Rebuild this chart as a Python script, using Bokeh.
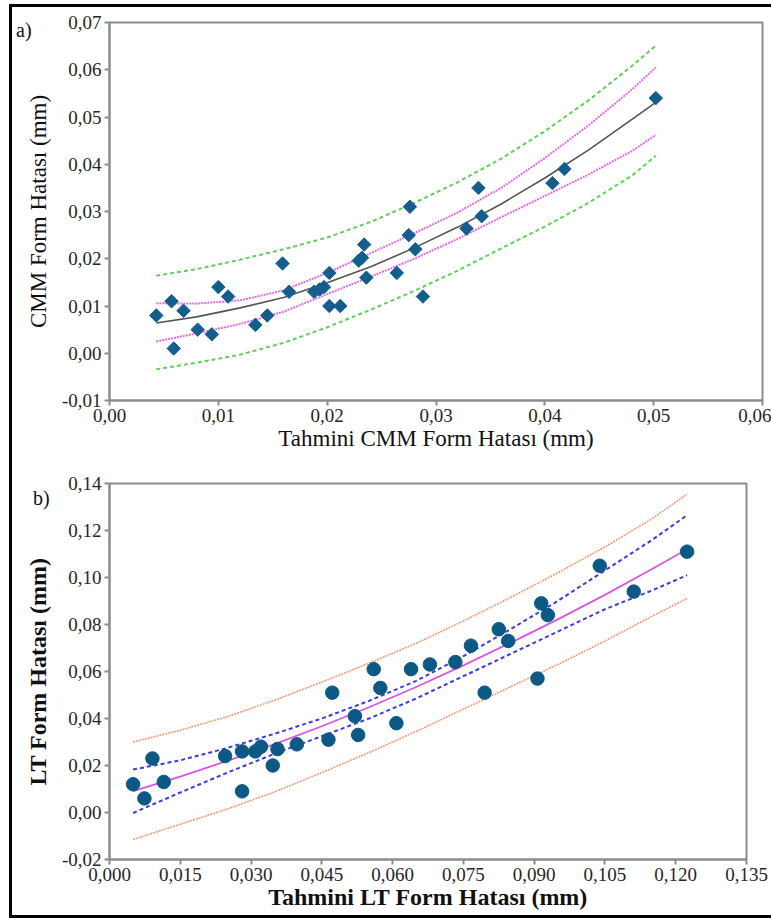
from bokeh.plotting import figure
from bokeh.layouts import column, row
from bokeh.models import Range1d, FixedTicker, CustomJSTickFormatter, Div
from bokeh.embed import file_html
from bokeh.resources import INLINE
import numpy as np

SERIF = "Liberation Serif"

# ---------------- Panel a) data ----------------
cmm_pred = [0.0043, 0.0057, 0.0059, 0.0068, 0.0081, 0.0094, 0.0100, 0.0109, 0.0134, 0.0145,
            0.0159, 0.0165, 0.0188, 0.0193, 0.0197, 0.0202, 0.0202, 0.0212, 0.0229, 0.0232,
            0.0234, 0.0236, 0.0264, 0.0275, 0.0276, 0.0281, 0.0288, 0.0328, 0.0339, 0.0342,
            0.0407, 0.0418, 0.0502]
cmm_meas = [0.008, 0.011, 0.001, 0.009, 0.005, 0.004, 0.014, 0.012, 0.006, 0.008,
            0.019, 0.013, 0.013, 0.0135, 0.014, 0.017, 0.010, 0.010, 0.0196, 0.0202,
            0.023, 0.016, 0.017, 0.025, 0.031, 0.022, 0.012, 0.0264, 0.035, 0.029,
            0.036, 0.039, 0.054]

cmm_curve_x = [0.0043, 0.008, 0.012, 0.016, 0.020, 0.024, 0.028, 0.032, 0.036, 0.040, 0.044, 0.048, 0.0502]
cmm_fit     = [0.0064, 0.0077, 0.0096, 0.0118, 0.0149, 0.0183, 0.0223, 0.0267, 0.0316, 0.0371, 0.0430, 0.0495, 0.0531]
cmm_ci_up   = [0.0106, 0.0105, 0.0112, 0.0133, 0.0170, 0.0212, 0.0254, 0.0298, 0.0350, 0.0413, 0.0482, 0.0558, 0.0605]
cmm_ci_lo   = [0.0025, 0.0042, 0.0062, 0.0088, 0.0125, 0.0162, 0.0200, 0.0242, 0.0288, 0.0333, 0.0378, 0.0428, 0.0462]
cmm_pi_up   = [0.0164, 0.0178, 0.0198, 0.0220, 0.0245, 0.0278, 0.0318, 0.0362, 0.0412, 0.0470, 0.0535, 0.0608, 0.0651]
cmm_pi_lo   = [-0.0034, -0.0020, -0.0003, 0.0022, 0.0055, 0.0092, 0.0132, 0.0175, 0.0222, 0.0268, 0.0318, 0.0376, 0.0418]

cmm_xticks = [0.00, 0.01, 0.02, 0.03, 0.04, 0.05, 0.06]
cmm_yticks = [-0.01, 0.00, 0.01, 0.02, 0.03, 0.04, 0.05, 0.06, 0.07]

# ---------------- Panel b) data ----------------
lt_pred = [0.0050, 0.0074, 0.0091, 0.0115, 0.0245, 0.0281, 0.0281, 0.0309, 0.0321, 0.0346,
           0.0356, 0.0397, 0.0464, 0.0472, 0.0520, 0.0527, 0.0560, 0.0574, 0.0608, 0.0639,
           0.0679, 0.0733, 0.0766, 0.0795, 0.0825, 0.0845, 0.0907, 0.0915, 0.0929, 0.1039,
           0.1111, 0.1224]
lt_meas = [0.012, 0.006, 0.023, 0.013, 0.024, 0.026, 0.009, 0.026, 0.028, 0.020,
           0.027, 0.029, 0.031, 0.051, 0.041, 0.033, 0.061, 0.053, 0.038, 0.061,
           0.063, 0.064, 0.071, 0.051, 0.078, 0.073, 0.057, 0.089, 0.084, 0.105,
           0.094, 0.111]

lt_curve_x = [0.005, 0.015, 0.025, 0.035, 0.045, 0.055, 0.065, 0.075, 0.085, 0.095, 0.105, 0.115, 0.1224]
lt_fit     = [0.0091, 0.0153, 0.0220, 0.0291, 0.0367, 0.0448, 0.0534, 0.0626, 0.0722, 0.0822, 0.0926, 0.1036, 0.1120]
lt_ci_up   = [0.0183, 0.0222, 0.0275, 0.0335, 0.0400, 0.0475, 0.0560, 0.0665, 0.0780, 0.0900, 0.1030, 0.1160, 0.1265]
lt_ci_lo   = [-0.0002, 0.0085, 0.0170, 0.0250, 0.0325, 0.0400, 0.0485, 0.0580, 0.0675, 0.0770, 0.0865, 0.0945, 0.1010]
lt_pi_up   = [0.0300, 0.0350, 0.0408, 0.0478, 0.0555, 0.0635, 0.0720, 0.0815, 0.0915, 0.1020, 0.1130, 0.1250, 0.1355]
lt_pi_lo   = [-0.0115, -0.0050, 0.0015, 0.0088, 0.0170, 0.0255, 0.0345, 0.0440, 0.0535, 0.0630, 0.0730, 0.0835, 0.0911]

lt_xticks = [0.000, 0.015, 0.030, 0.045, 0.060, 0.075, 0.090, 0.105, 0.120, 0.135]
lt_yticks = [-0.02, 0.00, 0.02, 0.04, 0.06, 0.08, 0.10, 0.12, 0.14]

panel_labels = ["a)", "b)"]

AXIS_COL = "#8c8c8c"


def style(p, xticks, yticks, xdec, ydec, xlabel, ylabel, bold):
    p.xaxis.ticker = FixedTicker(ticks=xticks)
    p.yaxis.ticker = FixedTicker(ticks=yticks)
    p.xaxis.formatter = CustomJSTickFormatter(code="return tick.toFixed(%d).replace('.', ',');" % xdec)
    p.yaxis.formatter = CustomJSTickFormatter(code="return tick.toFixed(%d).replace('.', ',');" % ydec)
    p.xaxis.axis_label = xlabel
    p.yaxis.axis_label = ylabel
    for ax in (p.xaxis[0], p.yaxis[0]):
        ax.axis_line_color = AXIS_COL
        ax.axis_line_width = 2
        ax.major_tick_line_color = AXIS_COL
        ax.major_tick_line_width = 2
        ax.major_tick_out = 5
        ax.major_tick_in = 0
        ax.minor_tick_line_color = None
        ax.major_label_text_font = SERIF
        ax.major_label_text_font_size = "19px"
        ax.major_label_text_color = "#262626"
        ax.major_label_standoff = 3
        ax.axis_label_text_font = SERIF
        ax.axis_label_text_font_size = "24px" if bold else "23px"
        ax.axis_label_text_font_style = "bold" if bold else "normal"
        ax.axis_label_text_color = "#111111"
        ax.axis_label_standoff = 0 if bold else 1
    p.yaxis.axis_label_standoff = 8
    p.xgrid.visible = False
    p.ygrid.visible = False
    p.outline_line_color = AXIS_COL
    p.outline_line_width = 2
    p.background_fill_color = "white"
    p.border_fill_color = "white"


# ---------------- Panel a) ----------------
p1 = figure(frame_width=653, frame_height=378, x_range=Range1d(0, 0.06), y_range=Range1d(-0.01, 0.07),
            output_backend="svg", toolbar_location=None,
            min_border_left=88, min_border_right=18, min_border_top=15, min_border_bottom=56)
style(p1, cmm_xticks, cmm_yticks, 2, 2, "Tahmini CMM Form Hatası (mm)", "CMM Form Hatası (mm)", False)

p1.line(cmm_curve_x, cmm_pi_up, line_color="#62cf5a", line_width=2, line_dash="4 3")
p1.line(cmm_curve_x, cmm_pi_lo, line_color="#62cf5a", line_width=2, line_dash="4 3")
p1.line(cmm_curve_x, cmm_ci_up, line_color="#e46be6", line_width=2, line_dash="2 1")
p1.line(cmm_curve_x, cmm_ci_lo, line_color="#e46be6", line_width=2, line_dash="2 1")
p1.line(cmm_curve_x, cmm_fit, line_color="#555555", line_width=1.6)
p1.scatter(cmm_pred, cmm_meas, marker="square", size=9.5, angle=np.pi / 4,
           fill_color="#145e8e", line_color="#145e8e", line_width=1)

# ---------------- Panel b) ----------------
p2 = figure(frame_width=637, frame_height=376, x_range=Range1d(0, 0.135), y_range=Range1d(-0.02, 0.14),
            output_backend="svg", toolbar_location=None,
            min_border_left=97, min_border_right=25, min_border_top=27, min_border_bottom=56)
style(p2, lt_xticks, lt_yticks, 3, 2, "Tahmini LT Form Hatası (mm)", "LT Form Hatası (mm)", True)

p2.line(lt_curve_x, lt_pi_up, line_color="#f39a78", line_width=1.6, line_dash="2 1")
p2.line(lt_curve_x, lt_pi_lo, line_color="#f39a78", line_width=1.6, line_dash="2 1")
p2.line(lt_curve_x, lt_ci_up, line_color="#3c3ce0", line_width=2, line_dash="4 3")
p2.line(lt_curve_x, lt_ci_lo, line_color="#3c3ce0", line_width=2, line_dash="4 3")
p2.line(lt_curve_x, lt_fit, line_color="#dd55dd", line_width=1.8)
p2.scatter(lt_pred, lt_meas, marker="circle", size=13.5,
           fill_color="#0d5985", line_color="#0d5985", line_width=1)

# ---------------- outer black frame built from layout blocks ----------------
top_bar = Div(text="", width=759, height=3, margin=0, styles={"background-color": "black"})
bottom_bar = Div(text="", width=759, height=3, margin=0, styles={"background-color": "black"})
left_bar = Div(text="", width=3, height=914, margin=0, styles={"background-color": "black"})


def panel_tag(txt, left, top):
    return Div(text='<span style="font-family: \'Liberation Serif\'; font-size: 20px; color: #111;">%s</span>' % txt,
               width=24, height=24, margin=0,
               styles={"position": "absolute", "left": "%dpx" % left, "top": "%dpx" % top,
                       "z-index": "10"})


tag_a = panel_tag(panel_labels[0], 7, 12)
tag_b = panel_tag(panel_labels[1], 24, 480)

inner = column(top_bar, p1, p2, bottom_bar, spacing=0, margin=0)
layout = row(left_bar, inner, tag_a, tag_b, spacing=0, margin=0,
             styles={"position": "absolute", "top": "4px", "left": "9px", "background-color": "white"})

open("out.html", "w").write(file_html(layout, INLINE))
